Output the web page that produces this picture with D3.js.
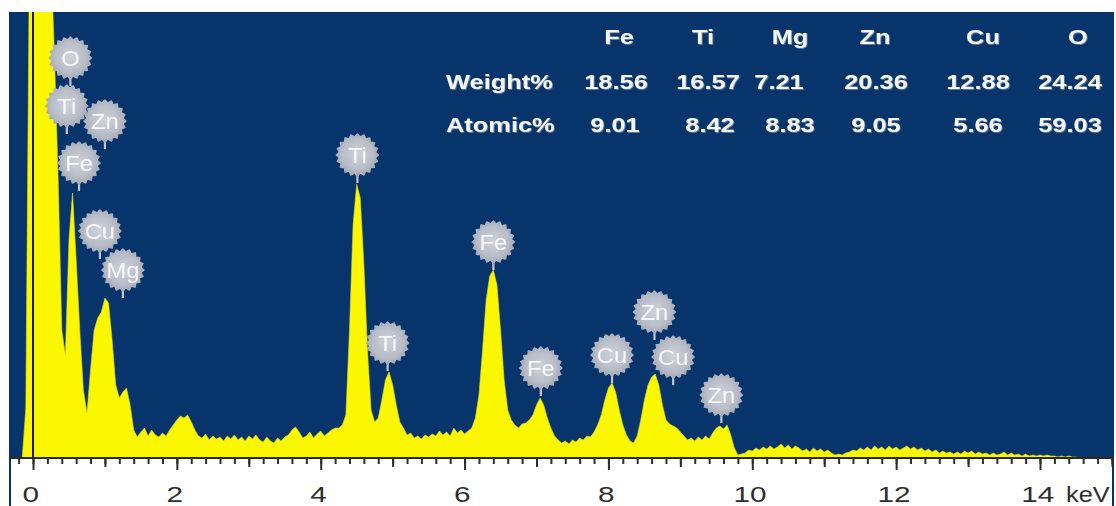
<!DOCTYPE html>
<html>
<head>
<meta charset="utf-8">
<script src="https://cdn.jsdelivr.net/npm/d3@7"></script>
<style>
  html, body { margin: 0; padding: 0; background: #ffffff; }
  svg { display: block; }
</style>
</head>
<body>
<svg id="chart" width="1116" height="506"></svg>
<script>
// ---- Spectrum: channel calibration and counts per channel ----
const startKeV = -0.15;
const stepKeV = 0.05;
const counts = [
  0, 500, 5000, 5000, 5000, 5000, 5000, 5000, 5000, 3980,
  2780, 1280, 1030, 2180, 2650, 1980, 1280, 680, 450, 880,
  1280, 1400, 1460, 1600, 1550, 1180, 730, 600, 660, 700,
  530, 280, 210, 260, 300, 220, 280, 230, 210, 250,
  220, 280, 330, 380, 420, 400, 430, 360, 280, 220,
  200, 240, 180, 220, 190, 210, 170, 220, 190, 230,
  180, 210, 170, 220, 190, 230, 180, 160, 210, 170,
  150, 200, 170, 210, 230, 280, 310, 260, 200, 220,
  260, 200, 240, 270, 220, 250, 280, 300, 300, 330,
  430, 1280, 2330, 2740, 2600, 1930, 1080, 480, 360, 400,
  580, 780, 860, 730, 530, 360, 300, 230, 250, 200,
  220, 190, 230, 210, 240, 220, 270, 230, 260, 220,
  300, 250, 280, 240, 270, 300, 400, 630, 1080, 1580,
  1820, 1880, 1730, 1280, 780, 480, 380, 330, 300, 340,
  350, 380, 430, 530, 600, 530, 400, 300, 220, 180,
  150, 170, 140, 180, 160, 200, 180, 220, 210, 260,
  330, 430, 580, 700, 750, 660, 480, 330, 230, 170,
  150, 220, 380, 580, 730, 810, 840, 730, 530, 380,
  340, 320, 300, 260, 220, 180, 200, 170, 210, 180,
  220, 190, 250, 300, 320, 290, 330, 230, 100, 30,
  40, 50, 80, 70, 100, 80, 110, 90, 120, 90,
  110, 140, 100, 130, 90, 120, 100, 70, 90, 60,
  100, 70, 90, 60, 80, 50, 30, 40, 30, 50,
  60, 80, 70, 100, 80, 110, 80, 120, 90, 110,
  80, 120, 90, 110, 80, 100, 120, 90, 110, 80,
  100, 70, 90, 60, 80, 50, 70, 50, 60, 40,
  60, 40, 70, 50, 70, 40, 60, 40, 50, 30,
  50, 30, 40, 60, 30, 50, 30, 40, 20, 40,
  20, 30, 20, 30, 20, 30, 20, 20, 10, 20,
  10, 20, 10, 10, 0, 0
];

// ---- Quantification table ----
const elements  = ["Fe", "Ti", "Mg", "Zn", "Cu", "O"];
const weightPct = [18.56, 16.57, 7.21, 20.36, 12.88, 24.24];
const atomicPct = [9.01, 8.42, 8.83, 9.05, 5.66, 59.03];
const rowNames  = ["Weight%", "Atomic%"];

// ---- Peak identification markers: element, line energy (keV), marker tip height (counts) ----
const peakEls  = ["O", "Ti", "Zn", "Fe", "Cu", "Mg", "Ti", "Ti", "Fe", "Fe", "Cu", "Zn", "Cu", "Zn"];
const peakKeV  = [0.52, 0.47, 1.00, 0.64, 0.93, 1.25, 4.51, 4.93, 6.40, 7.06, 8.05, 8.64, 8.90, 9.57];
const peakTips = [3720, 3240, 3090, 2670, 1990, 1600, 2750, 870, 1880, 620, 750, 1180, 730, 350];

// ---- Energy axis ----
const majorTicks = [0, 2, 4, 6, 8, 10, 12, 14];
const oddTicks   = [1, 3, 5, 7, 9, 11, 13, 15];
const axisUnit   = "keV";

// ================= drawing =================
const svg = d3.select("#chart");
const frame = { left: 10, right: 1113, top: 12, bottom: 458 };
const NAVY = "#07346a";
const FONT = "'Liberation Sans', Arial, Helvetica, sans-serif";

const x = d3.scaleLinear().domain([0, 14]).range([33, 1040]);
const y = d3.scaleLinear().domain([0, 4460]).range([frame.bottom, frame.top]);

const spectrum = counts.map((c, i) => ({ e: startKeV + i * stepKeV, c }));

const defs = svg.append("defs");
defs.append("clipPath").attr("id", "plotClip")
  .append("rect")
  .attr("x", frame.left).attr("y", frame.top)
  .attr("width", frame.right - frame.left)
  .attr("height", frame.bottom - frame.top);

const grad = defs.append("radialGradient").attr("id", "bubbleFill")
  .attr("cx", "50%").attr("cy", "48%").attr("r", "55%");
grad.append("stop").attr("offset", "0%").attr("stop-color", "#cfd3db");
grad.append("stop").attr("offset", "65%").attr("stop-color", "#b7bcc7");
grad.append("stop").attr("offset", "100%").attr("stop-color", "#9ca3b0");

const soft = defs.append("filter").attr("id", "soft")
  .attr("x", "-20%").attr("y", "-20%").attr("width", "140%").attr("height", "140%");
soft.append("feGaussianBlur").attr("stdDeviation", 0.6);

const textShade = defs.append("filter").attr("id", "textShade")
  .attr("x", "-10%").attr("y", "-20%").attr("width", "120%").attr("height", "140%");
textShade.append("feDropShadow").attr("dx", 0.8).attr("dy", 0.8)
  .attr("stdDeviation", 0.6).attr("flood-color", "#8f9db3").attr("flood-opacity", 0.8);

// plot background
svg.append("rect")
  .attr("x", frame.left).attr("y", frame.top)
  .attr("width", frame.right - frame.left)
  .attr("height", frame.bottom - frame.top)
  .attr("fill", NAVY);

// spectrum fill
const area = d3.area()
  .x(d => x(d.e))
  .y0(y(0))
  .y1(d => y(d.c));

svg.append("path")
  .datum(spectrum)
  .attr("clip-path", "url(#plotClip)")
  .attr("d", area)
  .attr("fill", "#fbf700")
  .attr("stroke", "#e2dc10")
  .attr("stroke-width", 0.6);

// zero-energy marker line
svg.append("line")
  .attr("x1", x(0)).attr("x2", x(0))
  .attr("y1", frame.top).attr("y2", frame.bottom)
  .attr("stroke", "#1c1c14").attr("stroke-width", 2);

// side borders running down through the axis strip
[frame.left, frame.right].forEach(px => {
  svg.append("line")
    .attr("x1", px).attr("x2", px)
    .attr("y1", frame.top).attr("y2", 506)
    .attr("stroke", NAVY).attr("stroke-width", 2);
});

// ---- axis ----
const axisG = svg.append("g")
  .attr("transform", `translate(0,${frame.bottom})`);

const minorVals = d3.range(-1, 76).map(k => k / 5);

axisG.append("g")
  .call(d3.axisBottom(x).tickValues(minorVals).tickSize(6).tickFormat(""));
axisG.append("g")
  .call(d3.axisBottom(x).tickValues(oddTicks).tickSize(9).tickFormat(""));
const majorAxis = axisG.append("g")
  .call(d3.axisBottom(x).tickValues(majorTicks).tickSize(12).tickFormat(d => String(d)));

axisG.selectAll(".domain").remove();
axisG.selectAll(".tick line").attr("stroke", "#2d2d2d").attr("stroke-width", 2);
majorAxis.selectAll(".tick text")
  .attr("y", 0).attr("dy", 0)
  .attr("x", -2)
  .attr("transform", "translate(0,44) scale(1.35,1)")
  .attr("fill", "#2e2e2e")
  .style("font-family", FONT)
  .style("font-size", "22px");

svg.append("text")
  .attr("transform", `translate(${x(14) + 26},${frame.bottom + 44}) scale(1.15,1)`)
  .attr("text-anchor", "start")
  .attr("fill", "#2e2e2e")
  .style("font-family", FONT)
  .style("font-size", "22px")
  .text(axisUnit);

// axis baseline
svg.append("line")
  .attr("x1", frame.left).attr("x2", frame.right)
  .attr("y1", frame.bottom).attr("y2", frame.bottom)
  .attr("stroke", "#2b2b1c").attr("stroke-width", 2);

// ---- peak markers ----
const N = 80, R = 20.5;
const bumpPts = d3.range(N).map(k => {
  const a = (k / N) * 2 * Math.PI;
  return [a, R + 1.3 * Math.cos(a * 20)];
});
const bubblePath = d3.lineRadial()
  .angle(d => d[0]).radius(d => d[1])
  .curve(d3.curveCardinalClosed)(bumpPts);

const markers = peakEls.map((el, i) => ({ el, keV: peakKeV[i], tip: peakTips[i] }));
const stemLen = 28;

const mk = svg.append("g").attr("filter", "url(#soft)")
  .selectAll("g")
  .data(markers)
  .join("g")
  .attr("transform", d => `translate(${x(d.keV)},${y(d.tip) - stemLen})`);

mk.append("line")
  .attr("x1", 0).attr("x2", 0)
  .attr("y1", R - 1).attr("y2", stemLen)
  .attr("stroke", "#c3c7cf").attr("stroke-width", 2.2);

mk.append("path")
  .attr("d", bubblePath)
  .attr("fill", "url(#bubbleFill)");

mk.append("text")
  .attr("transform", "scale(1.08,1)")
  .attr("text-anchor", "middle")
  .attr("dy", "0.36em")
  .attr("fill", "#f8f9fc")
  .style("font-family", FONT)
  .style("font-size", "22px")
  .text(d => d.el);

// ---- quantification table ----
const tableCols = {
  header: [619, 703, 790, 875, 983, 1078],
  weight: [616, 708, 779, 876, 978, 1070],
  atomic: [615, 710, 790, 876, 978, 1070]
};
const rowBase = { header: 44, weight: 89, atomic: 132 };
const rowLabelX = 446;

const tbl = svg.append("g")
  .attr("filter", "url(#textShade)")
  .style("font-family", FONT)
  .style("font-size", "20px")
  .style("font-weight", "bold")
  .attr("fill", "#f4f6fa");

function cell(txt, px, py, anchor) {
  tbl.append("text")
    .attr("transform", `translate(${px},${py}) scale(1.27,1)`)
    .attr("text-anchor", anchor)
    .text(txt);
}

elements.forEach((el, i) => cell(el, tableCols.header[i], rowBase.header, "middle"));
cell(rowNames[0], rowLabelX, rowBase.weight, "start");
weightPct.forEach((v, i) => cell(v.toFixed(2), tableCols.weight[i], rowBase.weight, "middle"));
cell(rowNames[1], rowLabelX, rowBase.atomic, "start");
atomicPct.forEach((v, i) => cell(v.toFixed(2), tableCols.atomic[i], rowBase.atomic, "middle"));
</script>
</body>
</html>
